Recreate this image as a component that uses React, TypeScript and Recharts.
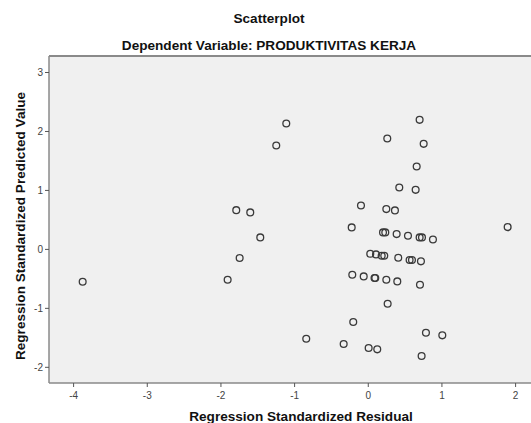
import { ScatterChart, Scatter, XAxis, YAxis, CartesianGrid, ReferenceLine } from "recharts";

const X_TICKS = [-4, -3, -2, -1, 0, 1, 2];
const Y_TICKS = [-2, -1, 0, 1, 2, 3];
const X_DOMAIN: [number, number] = [-4.334, 2.209];
const Y_DOMAIN: [number, number] = [-2.266, 3.28];

// standardized residual / standardized predicted value pairs
const RESIDUAL = [
  -1.113, -1.249, -1.792, -1.602, -1.466, -1.746, -1.909, -3.877,
  0.697, 0.258, 0.752, 0.657, 0.421, 0.643, -0.099, 0.245, 0.362,
  -0.225, 1.892, 0.2, 0.231, 0.385, 0.539, 0.697, 0.729, 0.878,
  0.027, 0.105, 0.182, 0.217, 0.407, 0.561, 0.593, 0.715,
  -0.217, -0.062, 0.085, 0.095, 0.245, 0.394, 0.702,
  0.263, -0.204, -0.842, -0.334, 0.005, 0.122, 0.783, 1.005, 0.724,
];
const PREDICTED = [
  2.136, 1.763, 0.666, 0.627, 0.203, -0.147, -0.515, -0.549,
  2.197, 1.881, 1.79, 1.407, 1.051, 1.01, 0.745, 0.683, 0.661,
  0.373, 0.378, 0.288, 0.288, 0.259, 0.231, 0.203, 0.203, 0.169,
  -0.075, -0.085, -0.108, -0.108, -0.142, -0.181, -0.181, -0.203,
  -0.43, -0.458, -0.486, -0.486, -0.515, -0.543, -0.6,
  -0.922, -1.232, -1.515, -1.605, -1.673, -1.695, -1.413, -1.458, -1.808,
];

const points = RESIDUAL.map((x, i) => ({ x, y: PREDICTED[i] }));

const FONT = "'Liberation Sans', Arial, sans-serif";
const AXIS = "#8a8a8a";
const TICK_TEXT = { fontSize: 10, fill: "#444", fontFamily: FONT };

const ring = (props: any) => (
  <circle cx={props.cx} cy={props.cy} r={3.4} fill="none" stroke="#3a3a3a" strokeWidth={1.3} />
);

function Label({ x, y, text, rotate = false }: { x: number; y: number; text: string; rotate?: boolean }) {
  return (
    <div
      style={{
        position: "absolute",
        left: x,
        top: y,
        transform: `translate(-50%, -50%)${rotate ? " rotate(-90deg)" : ""}`,
        fontWeight: "bold",
        fontSize: 13.6,
        whiteSpace: "nowrap",
        color: "#111",
      }}
    >
      {text}
    </div>
  );
}

export default function App() {
  return (
    <div style={{ position: "absolute", left: 0, top: 0, width: 531, height: 423, background: "#fff", fontFamily: FONT, overflow: "hidden" }}>
      <Label x={269} y={18} text="Scatterplot" />
      <Label x={269} y={45} text="Dependent Variable: PRODUKTIVITAS KERJA" />
      <ScatterChart width={531} height={423} margin={{ top: 56, right: 0, bottom: 0, left: 0 }}>
        <CartesianGrid fill="#f0f0f0" horizontal={false} vertical={false} />
        <XAxis
          type="number"
          dataKey="x"
          domain={X_DOMAIN}
          ticks={X_TICKS}
          height={40}
          tick={{ ...TICK_TEXT, dy: 3 }}
          tickSize={4}
          axisLine={{ stroke: AXIS, strokeWidth: 1.5 }}
          tickLine={{ stroke: "#555" }}
          allowDataOverflow
        />
        <YAxis
          type="number"
          dataKey="y"
          domain={Y_DOMAIN}
          ticks={Y_TICKS}
          width={49}
          tick={TICK_TEXT}
          tickSize={4}
          axisLine={{ stroke: AXIS, strokeWidth: 1.5 }}
          tickLine={{ stroke: "#555" }}
          allowDataOverflow
        />
        <ReferenceLine y={Y_DOMAIN[1]} stroke={AXIS} strokeWidth={2} ifOverflow="visible" />
        <Scatter data={points} shape={ring} isAnimationActive={false} />
      </ScatterChart>
      <Label x={301} y={416} text="Regression Standardized Residual" />
      <Label x={20} y={225.5} text="Regression Standardized Predicted Value" rotate />
    </div>
  );
}
